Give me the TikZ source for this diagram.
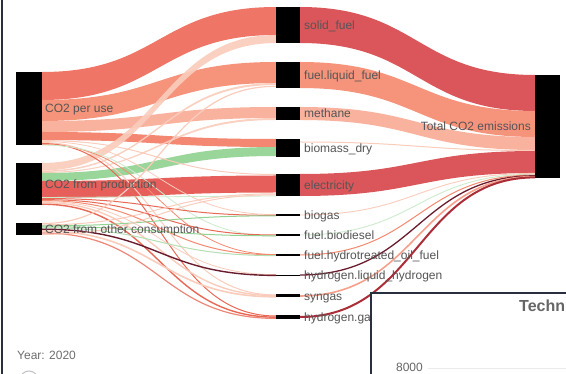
\documentclass[tikz,border=0pt]{standalone}
\usepackage{fontspec}
\setmainfont{Liberation Sans}
\definecolor{cTomato}{RGB}{238,106,90}
\definecolor{cSalmon}{RGB}{245,138,112}
\definecolor{cLSalmon}{RGB}{248,172,150}
\definecolor{cBioS}{RGB}{242,125,102}
\definecolor{cPale}{RGB}{250,204,188}
\definecolor{cGreen}{RGB}{146,210,146}
\definecolor{cPGreen}{RGB}{205,235,205}
\definecolor{cRed}{RGB}{228,82,76}
\definecolor{cCrimson}{RGB}{216,72,76}
\definecolor{cMaroon}{RGB}{105,28,45}
\definecolor{cDRed}{RGB}{170,45,55}
\definecolor{cLine}{RGB}{232,105,85}
\definecolor{cTxt}{RGB}{85,85,85}
\definecolor{cFrame}{RGB}{42,47,62}
\definecolor{cGrid}{RGB}{235,235,235}
\newcommand\sband[7]{\fill[#1] (#2,#3) .. controls ({(#2+#5)/2},#3) and ({(#2+#5)/2},#6) .. (#5,#6) -- (#5,#7) .. controls ({(#2+#5)/2},#7) and ({(#2+#5)/2},#4) .. (#2,#4) -- cycle;}
\newcommand\sline[5]{\draw[#1] (#2,#3) .. controls ({(#2+#4)/2},#3) and ({(#2+#4)/2},#5) .. (#4,#5);}
\tikzset{
  nd/.style={fill=black, inner sep=0pt, outer sep=0pt, draw=none},
  lbl/.style={font=\fontsize{12}{14}\selectfont, text=cTxt, inner sep=0pt, anchor=base west},
  band/.style={opacity=0.92},
}
\begin{document}
\begin{tikzpicture}[x=1pt,y=-1pt]
\useasboundingbox (0,0) rectangle (566,374);
\clip (0,0) rectangle (566,374);
\fill[white] (0,0) rectangle (566,374);
% ---------- left -> middle bands
\sband{cTomato,band}{42}{72}{100}{276}{7}{35}
\sband{cSalmon,band}{42}{100}{121}{276}{62}{83}
\sband{cLSalmon,band}{42}{121}{132}{276}{107}{118}
\sband{cBioS,band}{42}{132}{140}{276}{139}{147}
\sband{cPale,band}{42}{163}{170.5}{276}{35}{43}
\sband{cPale,band}{42}{170.5}{172}{276}{83}{85}
\sband{cPale,band}{42}{172}{173}{276}{118}{120}
\sband{cGreen,band}{42}{173}{181}{276}{147}{156}
\sband{cRed,band}{42}{181}{198}{276}{175.5}{192.5}
% thin lines from CO2 per use
\sline{cPale,line width=1pt}{42}{140.6}{276}{174.5}
\sline{cPale,line width=0.8pt}{42}{141.5}{276}{214.6}
\sline{cPale,line width=1pt}{42}{142.5}{276}{295}
\sline{cLine,line width=1pt}{42}{143.5}{276}{316}
\sline{cSalmon,line width=0.8pt}{42}{144.5}{276}{254.5}
\sline{cPGreen,line width=0.8pt}{42}{145}{276}{236}
% thin lines from CO2 from production
\sline{cLine,line width=1pt}{42}{198.5}{276}{215.4}
\sline{cLine,line width=1pt}{42}{199.6}{276}{235}
\sline{cSalmon,line width=1pt}{42}{200.6}{276}{254.8}
\sline{cPale,line width=0.8pt}{42}{201.5}{276}{274.6}
\sline{cPale,line width=1.4pt}{42}{202.6}{276}{295.6}
\sline{cLine,line width=1.4pt}{42}{204.2}{276}{317.2}
\sline{cPGreen,line width=0.8pt}{42}{197.5}{276}{196}
% thin lines from CO2 from other consumption
\sline{cPale,line width=1.2pt}{42}{223.6}{276}{86.3}
\sline{cPale,line width=1pt}{42}{224.8}{276}{193.8}
\sline{cGreen,line width=1pt}{42}{225.8}{276}{215.8}
\sline{cGreen,line width=1pt}{42}{226.8}{276}{235.8}
\sline{cGreen!70,line width=1pt}{42}{227.8}{276}{255.6}
\sline{cMaroon,line width=1.4pt}{42}{229.2}{276}{275.4}
\sline{cPale,line width=1.6pt}{42}{231}{276}{296.8}
\sline{cLine!80,line width=1.2pt}{42}{233}{276}{318.4}
\sline{cPale,line width=1pt}{42}{234.4}{276}{194.8}
% ---------- middle -> right bands
\sband{cCrimson,band}{300}{7}{43}{535}{75}{111}
\sband{cSalmon,band}{300}{62}{88}{535}{111}{137}
\sband{cLSalmon,band}{300}{107}{120}{535}{137}{150}
\sline{cPale,line width=1pt}{300}{142}{535}{150.5}
\sband{cCrimson,band}{300}{174}{196}{535}{151}{173}
\sline{cPale,line width=0.9pt}{300}{215}{535}{173.4}
\sline{cPGreen,line width=0.9pt}{300}{235}{535}{174.2}
\sline{cSalmon,line width=1pt}{300}{255}{535}{175}
\sline{cMaroon,line width=1.3pt}{300}{275}{535}{175.8}
\sline{cSalmon!80,line width=1.6pt}{300}{296}{535}{176.6}
\sline{cDRed,line width=2pt}{300}{317}{535}{177.4}
% ---------- nodes
\node[nd, minimum width=26pt, minimum height=73pt] (peruse) at (29,108.5) {};
\node[nd, minimum width=26pt, minimum height=42pt] (prod) at (29,184) {};
\node[nd, minimum width=26pt, minimum height=12pt] (other) at (29,229) {};
\node[nd, minimum width=24pt, minimum height=36pt] (solid) at (288,25) {};
\node[nd, minimum width=24pt, minimum height=26pt] (liquid) at (288,75) {};
\node[nd, minimum width=24pt, minimum height=13pt] (methane) at (288,113.5) {};
\node[nd, minimum width=24pt, minimum height=18pt] (biomass) at (288,148) {};
\node[nd, minimum width=24pt, minimum height=22pt] (elec) at (288,185) {};
\node[nd, minimum width=24pt, minimum height=1.6pt] (biogas) at (288,215.2) {};
\node[nd, minimum width=24pt, minimum height=1.6pt] (biodiesel) at (288,235.3) {};
\node[nd, minimum width=24pt, minimum height=1.6pt] (hydrotr) at (288,255.3) {};
\node[nd, minimum width=24pt, minimum height=1.2pt] (liqh) at (288,275.2) {};
\node[nd, minimum width=24pt, minimum height=3pt] (syngas) at (288,296) {};
\node[nd, minimum width=24pt, minimum height=4pt] (gash) at (288,317.3) {};
\node[nd, minimum width=25pt, minimum height=103pt] (total) at (547.5,126.5) {};
% ---------- labels
\node[lbl] at (45,112.5) {CO2 per use};
\node[lbl] at (45,188.5) {CO2 from production};
\node[lbl] at (45,233.2) {CO2 from other consumption};
\node[lbl] at (304,29.2) {solid\_fuel};
\node[lbl] at (304,79.2) {fuel.liquid\_fuel};
\node[lbl] at (304,117.7) {methane};
\node[lbl] at (304,152.2) {biomass\_dry};
\node[lbl] at (304,189.2) {electricity};
\node[lbl] at (304,219.4) {biogas};
\node[lbl] at (304,239.5) {fuel.biodiesel};
\node[lbl] at (304,259.5) {fuel.hydrotreated\_oil\_fuel};
\node[lbl] at (304,279.4) {hydrogen.liquid\_hydrogen};
\node[lbl] at (304,300.2) {syngas};
\node[lbl] at (304,321.5) {hydrogen.ga};
\node[lbl, anchor=base east] at (531,130.7) {Total CO2 emissions};
% ---------- footer, frame, inset
\draw[cFrame, line width=1.5pt] (2.2,-2) -- (2.2,380);
\node[font=\fontsize{12}{14}\selectfont, text=cTxt!85, inner sep=0pt, anchor=base west] (year) at (17,359.2) {Year: 2020};
\draw[cFrame!30, line width=1pt] (29,380) circle (9);
\draw[cFrame, line width=2.3pt, fill=white] (371.3,293) rectangle (590,400);
\node[font=\fontsize{16}{18}\bfseries, text=cTxt!90, inner sep=0pt, anchor=base west] (techn) at (519,311.5) {Techn};
\draw[cGrid, line width=0.8pt] (428,368) -- (572,368);
\node[font=\fontsize{12}{14}\selectfont, text=cTxt!90, inner sep=0pt, anchor=base east] (tick) at (423,371.5) {8000};
\end{tikzpicture}
\end{document}
